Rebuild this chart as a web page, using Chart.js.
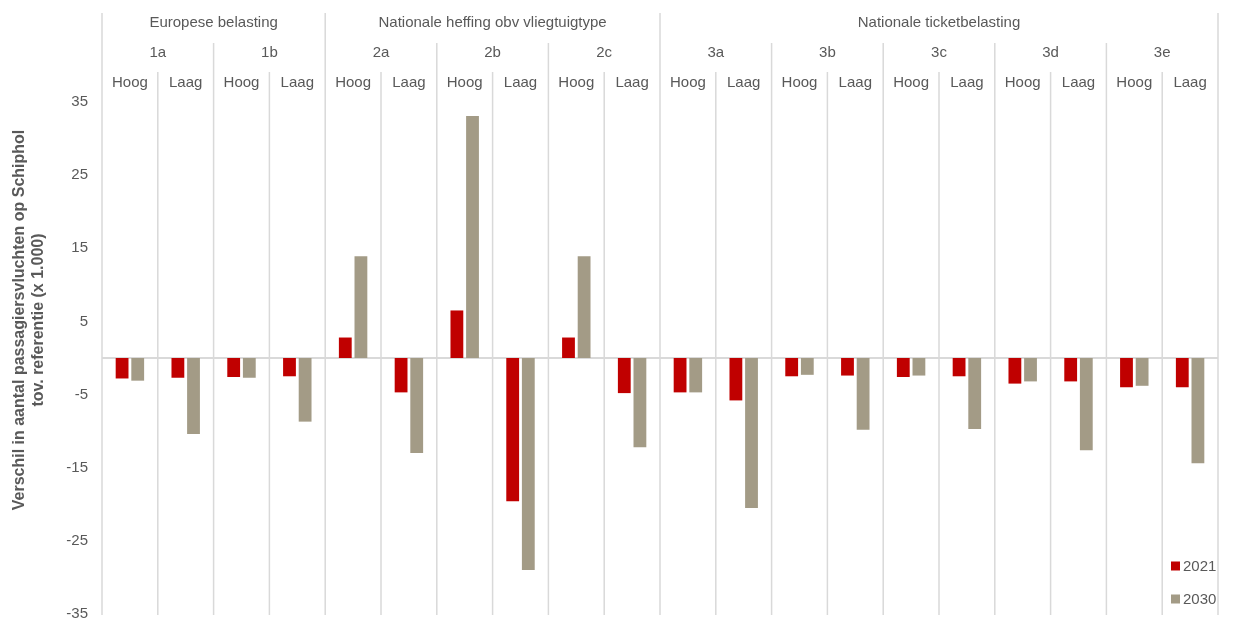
<!DOCTYPE html>
<html>
<head>
<meta charset="utf-8">
<script src="https://cdn.jsdelivr.net/npm/chart.js@4.4.1/dist/chart.umd.min.js"></script>
<style>
    html, body { margin: 0; padding: 0; background: #fff; }
    canvas { display: block; }
</style>
</head>
<body>
<canvas id="taxChart" width="1234" height="621"></canvas>
<script>
// data
const variantLabels = ['Hoog', 'Laag', 'Hoog', 'Laag', 'Hoog', 'Laag', 'Hoog', 'Laag', 'Hoog', 'Laag',
    'Hoog', 'Laag', 'Hoog', 'Laag', 'Hoog', 'Laag', 'Hoog', 'Laag', 'Hoog', 'Laag'];
const scenarioLabels = ['1a', '1b', '2a', '2b', '2c', '3a', '3b', '3c', '3d', '3e'];
const groupLabels = ['Europese belasting', 'Nationale heffing obv vliegtuigtype', 'Nationale ticketbelasting'];
const groupSpans = [2, 3, 5]; // number of scenarios per group

const values2021 = [-2.8, -2.7, -2.6, -2.5, 2.8, -4.7, 6.5, -19.6, 2.8, -4.8,
    -4.7, -5.8, -2.5, -2.4, -2.6, -2.5, -3.5, -3.2, -4.0, -4.0];
const values2030 = [-3.1, -10.4, -2.7, -8.7, 13.9, -13.0, 33.1, -29.0, 13.9, -12.2,
    -4.7, -20.5, -2.3, -9.8, -2.4, -9.7, -3.2, -12.6, -3.8, -14.4];

const yTicks = [-35, -25, -15, -5, 5, 15, 25, 35];
const yTitle = ['Verschil in aantal passagiersvluchten op Schiphol', 'tov. referentie (x 1.000)'];

const textColor = '#595959';
const lineColor = '#d9d9d9';
const fontFamily = "'Liberation Sans', Arial, sans-serif";

const boundaries = (chart) => {
    const x = chart.scales.x;
    const n = variantLabels.length;
    const w = (x.right - x.left) / n;
    const list = [];
    for (let k = 0; k <= n; k++) list.push(x.left + k * w);
    return list;
}

const groupEdges = () => {
    const edges = [0];
    let acc = 0;
    groupSpans.forEach((s) => {
        acc += s * 2;
        edges.push(acc);
    });
    return edges;
}

const headerPlugin = {
    id: 'headerPlugin',
    beforeDatasetsDraw(chart) {
        const ctx = chart.ctx;
        const area = chart.chartArea;
        const y = chart.scales.y;
        const bx = boundaries(chart);
        const gEdges = groupEdges();

        ctx.save();
        ctx.strokeStyle = lineColor;
        ctx.lineWidth = 1.5;

        bx.forEach((px, k) => {
            let top = 72;
            if (gEdges.includes(k)) top = 13;
            else if (k % 2 === 0) top = 43;
            ctx.beginPath();
            ctx.moveTo(px, top);
            ctx.lineTo(px, area.bottom + 1);
            ctx.stroke();
        });

        // zero line
        const y0 = y.getPixelForValue(0);
        ctx.lineWidth = 2;
        ctx.beginPath();
        ctx.moveTo(area.left, y0);
        ctx.lineTo(area.right, y0);
        ctx.stroke();
        ctx.restore();
    },
    afterDraw(chart) {
        const ctx = chart.ctx;
        const x = chart.scales.x;
        const bx = boundaries(chart);
        const gEdges = groupEdges();

        ctx.save();
        ctx.fillStyle = textColor;
        ctx.font = `15px ${fontFamily}`;
        ctx.textAlign = 'center';
        ctx.textBaseline = 'middle';

        variantLabels.forEach((label, i) => {
            ctx.fillText(label, x.getPixelForValue(i), 83);
        });

        scenarioLabels.forEach((label, j) => {
            ctx.fillText(label, (bx[2 * j] + bx[2 * j + 2]) / 2, 53);
        });

        groupLabels.forEach((label, g) => {
            ctx.fillText(label, (bx[gEdges[g]] + bx[gEdges[g + 1]]) / 2, 23);
        });

        // y axis title, centred on the whole plot incl. header
        ctx.save();
        ctx.font = `bold 16px ${fontFamily}`;
        ctx.translate(0, 320);
        ctx.rotate(-Math.PI / 2);
        ctx.fillText(yTitle[0], 0, 20);
        ctx.fillText(yTitle[1], 0, 39);
        ctx.restore();

        // legend, bottom right inside the plot
        const legendY = [566, 599];
        chart.data.datasets.forEach((ds, i) => {
            ctx.fillStyle = ds.backgroundColor;
            ctx.fillRect(1171, legendY[i] - 4.5, 9, 9);
            ctx.fillStyle = textColor;
            ctx.textAlign = 'left';
            ctx.font = `15px ${fontFamily}`;
            ctx.fillText(ds.label, 1183, legendY[i] + 1);
        });
        ctx.restore();
    }
};

new Chart(document.getElementById('taxChart'), {
    type: 'bar',
    data: {
        labels: variantLabels,
        datasets: [{
            label: '2021',
            data: values2021,
            backgroundColor: '#C00000',
            categoryPercentage: 0.56,
            barPercentage: 0.82
        }, {
            label: '2030',
            data: values2030,
            backgroundColor: '#A39B86',
            categoryPercentage: 0.56,
            barPercentage: 0.82
        }]
    },
    options: {
        responsive: false,
        animation: false,
        layout: {
            padding: { left: 0, top: 102, right: 16, bottom: 7 }
        },
        plugins: {
            legend: { display: false },
            tooltip: { enabled: false },
            title: { display: false }
        },
        scales: {
            x: {
                display: false
            },
            y: {
                min: -35,
                max: 35,
                afterBuildTicks: (scale) => {
                    scale.ticks = yTicks.map((v) => ({ value: v }));
                },
                afterFit: (scale) => {
                    scale.width = 102;
                    scale.paddingTop = 0;
                    scale.paddingBottom = 0;
                },
                grid: { display: false, drawTicks: false },
                border: { display: false },
                ticks: {
                    color: textColor,
                    padding: 14,
                    font: { size: 15, family: fontFamily }
                }
            }
        }
    },
    plugins: [headerPlugin]
});
</script>
</body>
</html>
